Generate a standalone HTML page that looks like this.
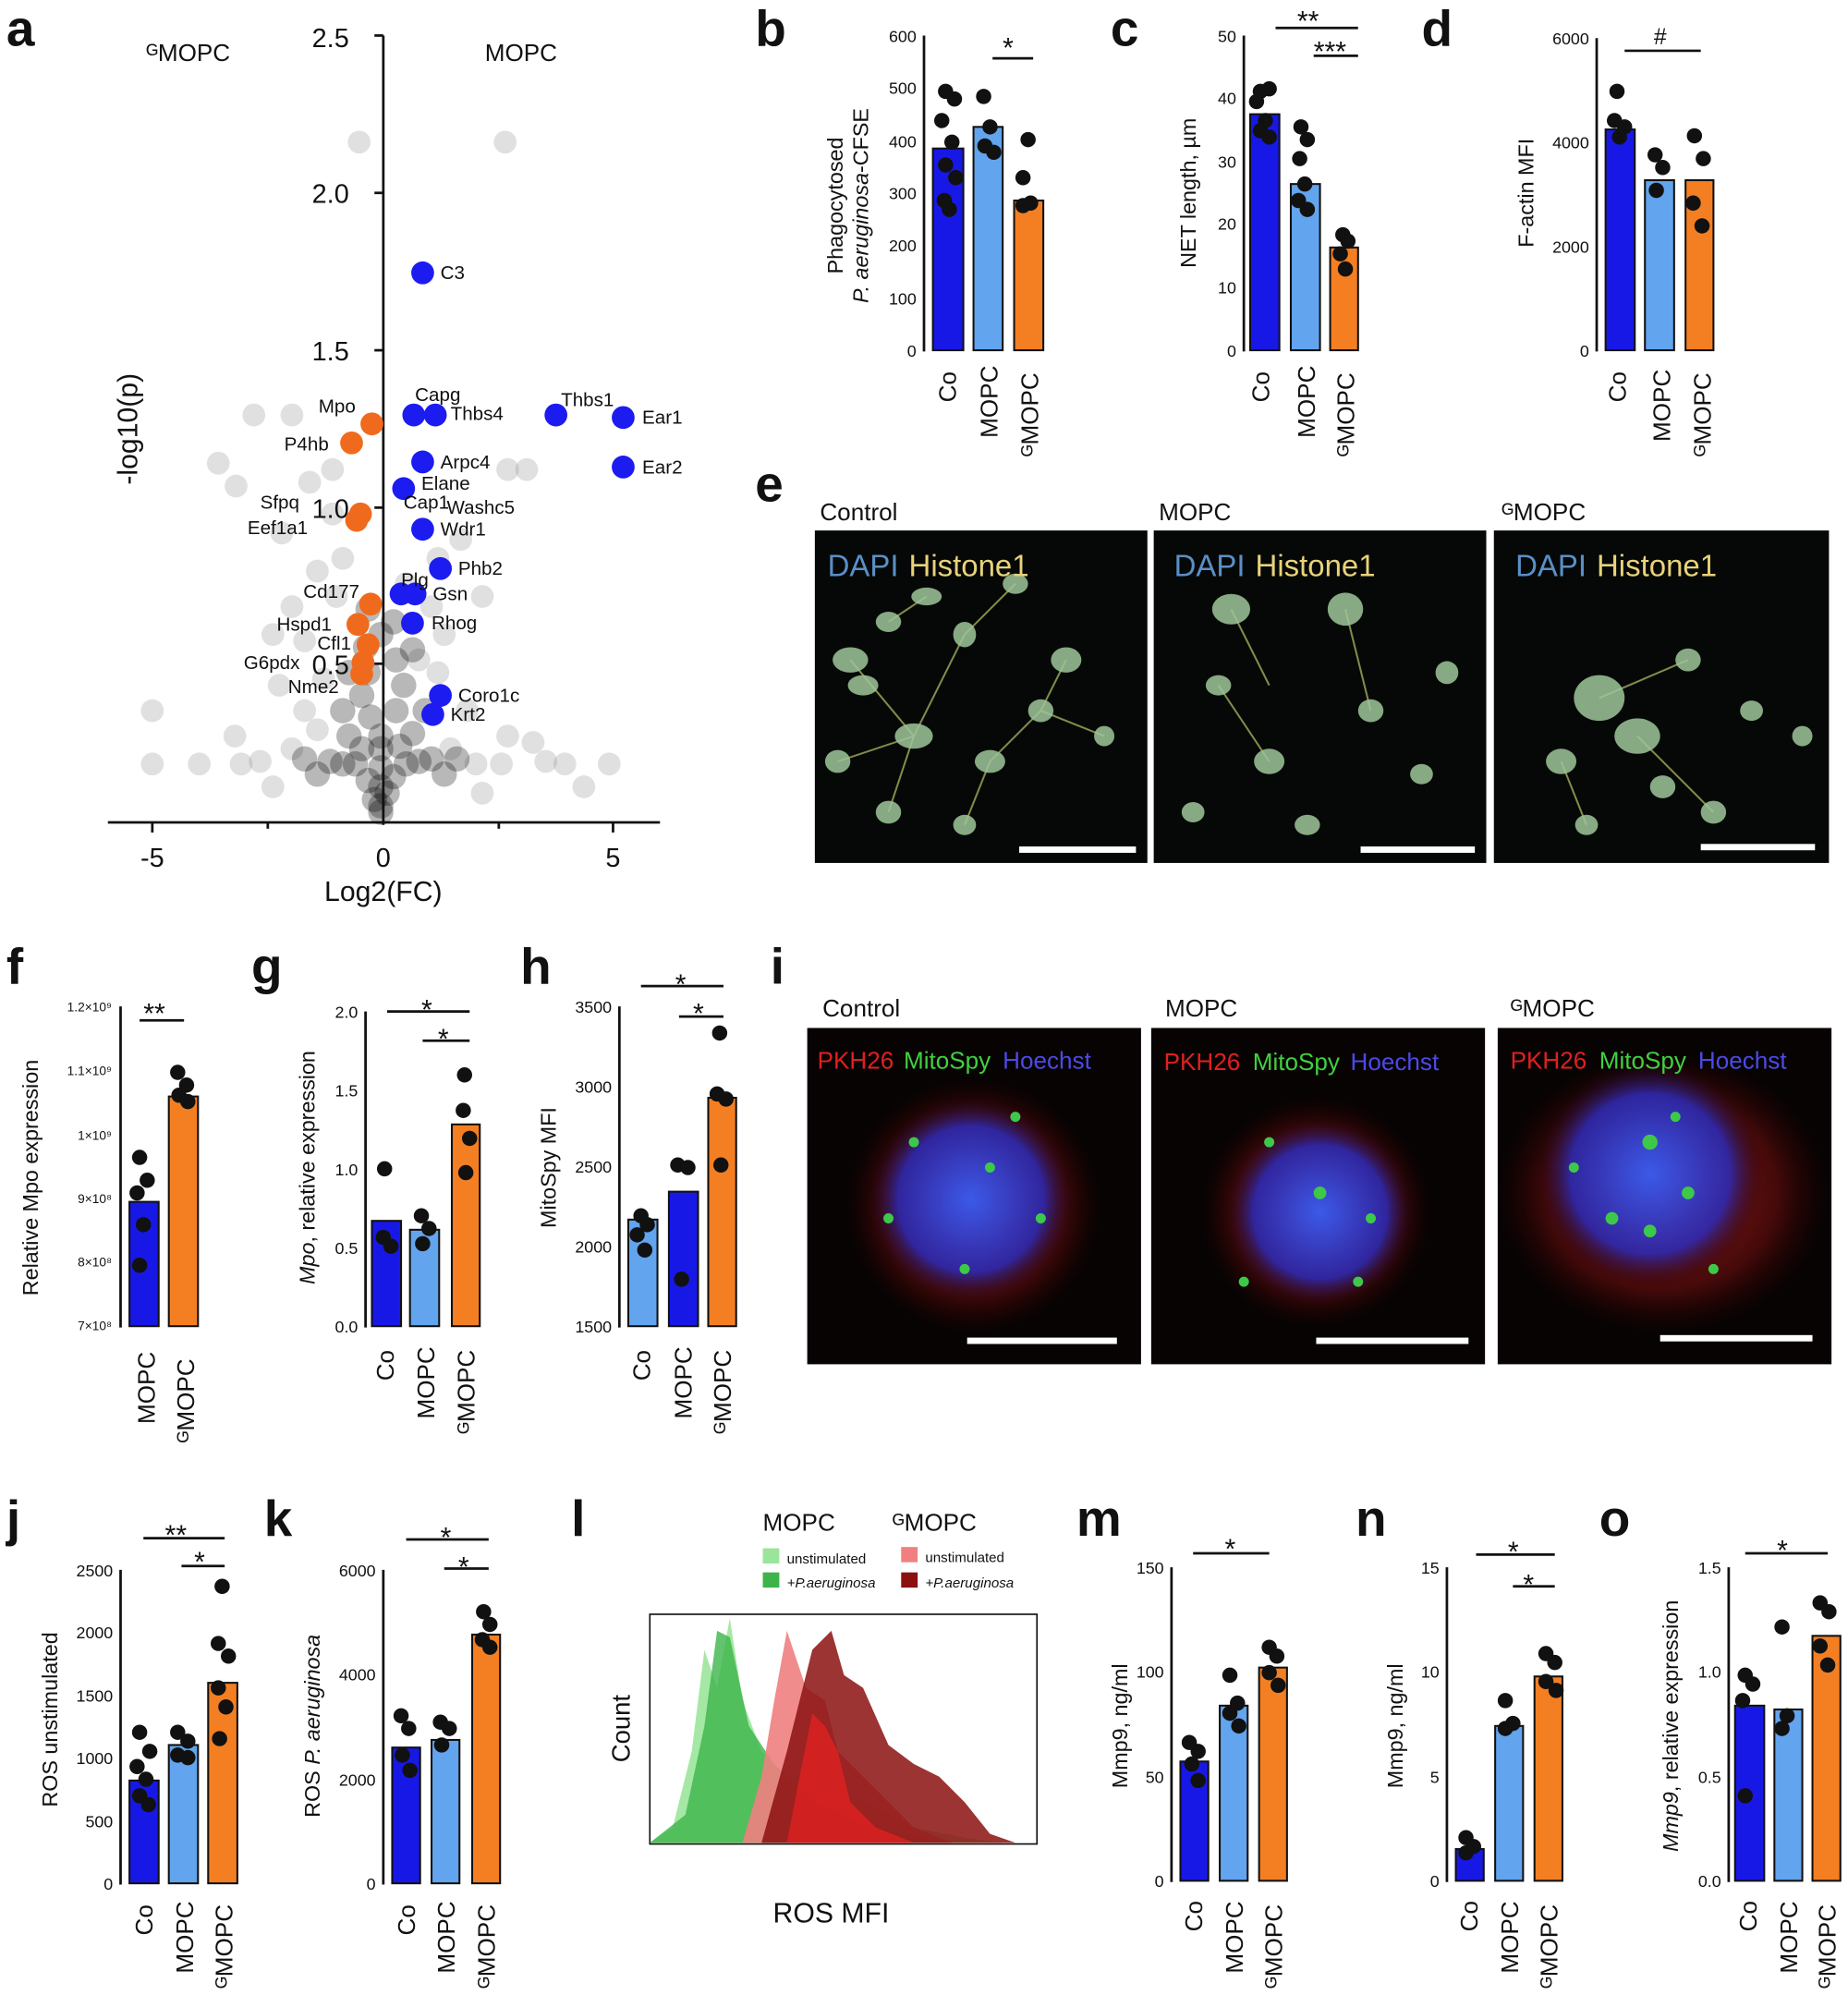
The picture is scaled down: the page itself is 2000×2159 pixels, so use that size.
<!DOCTYPE html>
<html><head><meta charset="utf-8"><style>
html,body{margin:0;padding:0;background:#fff}
svg{display:block}
text{font-family:"Liberation Sans",Arial,sans-serif}
.pl{font-size:40px;font-weight:bold}
.tk{font-size:13px}
.al{font-size:17px}
.cl{font-size:19px}
.gl{font-size:15px}
.b1{fill:#1818e6;stroke:#111;stroke-width:1.5}
.b2{fill:#62a4ee;stroke:#111;stroke-width:1.5}
.b3{fill:#f47f22;stroke:#111;stroke-width:1.5}
.ax{stroke:#111;stroke-width:2;fill:none}
.d{fill:#111}
.g{fill:#999;fill-opacity:.3}
</style></head><body>
<svg width="2000" height="2159" viewBox="0 0 1456 1572" preserveAspectRatio="none" xmlns="http://www.w3.org/2000/svg" fill="#111">
<rect width="1456" height="1572" fill="#fff"/>
<text class="pl" x="5" y="36">a</text><text class="pl" x="595" y="36">b</text><text class="pl" x="875" y="36">c</text><text class="pl" x="1120" y="36">d</text>
<text class="pl" x="595" y="395">e</text><text class="pl" x="5" y="775">f</text><text class="pl" x="198" y="775">g</text><text class="pl" x="410" y="775">h</text><text class="pl" x="607" y="775">i</text>
<text class="pl" x="5" y="1210">j</text><text class="pl" x="208" y="1210">k</text><text class="pl" x="450" y="1210">l</text><text class="pl" x="848" y="1210">m</text><text class="pl" x="1068" y="1210">n</text><text class="pl" x="1260" y="1210">o</text>

<!-- panel a -->
<g>
<g class="g">
<circle cx="283" cy="112" r="9"/><circle cx="398" cy="112" r="9"/><circle cx="200" cy="327" r="9"/><circle cx="230" cy="327" r="9"/><circle cx="172" cy="365" r="9"/><circle cx="186" cy="383" r="9"/><circle cx="244" cy="380" r="9"/><circle cx="262" cy="370" r="9"/><circle cx="400" cy="370" r="9"/><circle cx="415" cy="370" r="9"/><circle cx="363" cy="425" r="9"/><circle cx="222" cy="420" r="9"/><circle cx="250" cy="450" r="9"/><circle cx="265" cy="470" r="9"/><circle cx="380" cy="470" r="9"/><circle cx="215" cy="500" r="9"/><circle cx="240" cy="505" r="9"/><circle cx="350" cy="500" r="9"/><circle cx="330" cy="520" r="9"/><circle cx="120" cy="560" r="9"/><circle cx="120" cy="602" r="9"/><circle cx="157" cy="602" r="9"/><circle cx="185" cy="580" r="9"/><circle cx="205" cy="600" r="9"/><circle cx="400" cy="580" r="9"/><circle cx="430" cy="600" r="9"/><circle cx="395" cy="602" r="9"/><circle cx="460" cy="620" r="9"/><circle cx="480" cy="602" r="9"/><circle cx="368" cy="560" r="9"/><circle cx="240" cy="560" r="9"/><circle cx="220" cy="540" r="9"/><circle cx="270" cy="440" r="9"/><circle cx="320" cy="460" r="9"/><circle cx="345" cy="440" r="9"/><circle cx="262" cy="405" r="9"/>
<circle cx="190" cy="602" r="9"/><circle cx="230" cy="590" r="9"/><circle cx="250" cy="575" r="9"/><circle cx="355" cy="590" r="9"/><circle cx="375" cy="602" r="9"/><circle cx="420" cy="585" r="9"/><circle cx="445" cy="602" r="9"/><circle cx="215" cy="620" r="9"/><circle cx="380" cy="625" r="9"/><circle cx="255" cy="535" r="9"/><circle cx="345" cy="530" r="9"/><circle cx="230" cy="478" r="9"/><circle cx="340" cy="478" r="9"/>
</g>
<g fill="#000" fill-opacity=".28">
<circle cx="300" cy="640" r="10"/><circle cx="295" cy="630" r="10"/><circle cx="305" cy="625" r="10"/><circle cx="290" cy="615" r="10"/><circle cx="310" cy="612" r="10"/><circle cx="300" cy="605" r="10"/><circle cx="280" cy="602" r="10"/><circle cx="320" cy="602" r="10"/><circle cx="270" cy="602" r="10"/><circle cx="330" cy="600" r="10"/><circle cx="260" cy="600" r="10"/><circle cx="340" cy="598" r="10"/><circle cx="285" cy="590" r="10"/><circle cx="315" cy="588" r="10"/><circle cx="300" cy="580" r="10"/><circle cx="275" cy="580" r="10"/><circle cx="325" cy="578" r="10"/><circle cx="292" cy="565" r="10"/><circle cx="312" cy="560" r="10"/><circle cx="285" cy="548" r="10"/><circle cx="318" cy="540" r="10"/><circle cx="290" cy="530" r="10"/><circle cx="312" cy="520" r="10"/><circle cx="288" cy="510" r="10"/><circle cx="300" cy="500" r="10"/><circle cx="250" cy="610" r="10"/><circle cx="350" cy="610" r="10"/><circle cx="240" cy="598" r="10"/><circle cx="360" cy="598" r="10"/><circle cx="270" cy="560" r="10"/><circle cx="335" cy="560" r="10"/><circle cx="300" cy="635" r="10"/><circle cx="300" cy="620" r="10"/><circle cx="300" cy="590" r="10"/>
<circle cx="275" cy="530" r="10"/><circle cx="325" cy="512" r="10"/><circle cx="290" cy="480" r="10"/><circle cx="310" cy="490" r="10"/>
</g>
<line class="ax" x1="302" y1="28" x2="302" y2="650"/>
<line class="ax" x1="85" y1="648" x2="520" y2="648"/>
<g class="ax"><line x1="295" y1="28" x2="302" y2="28"/><line x1="295" y1="152" x2="302" y2="152"/><line x1="295" y1="276" x2="302" y2="276"/><line x1="295" y1="400" x2="302" y2="400"/><line x1="295" y1="523" x2="302" y2="523"/>
<line x1="120" y1="648" x2="120" y2="656"/><line x1="483" y1="648" x2="483" y2="656"/><line x1="211" y1="648" x2="211" y2="653"/><line x1="393" y1="648" x2="393" y2="653"/></g>
<g font-size="21" text-anchor="end"><text x="275" y="37">2.5</text><text x="275" y="160">2.0</text><text x="275" y="284">1.5</text><text x="275" y="408">1.0</text><text x="275" y="531">0.5</text></g>
<g font-size="21" text-anchor="middle"><text x="120" y="683">-5</text><text x="302" y="683">0</text><text x="483" y="683">5</text></g>
<text x="302" y="710" font-size="22" text-anchor="middle">Log2(FC)</text>
<text transform="translate(108,338) rotate(-90)" font-size="22" text-anchor="middle">-log10(p)</text>
<text x="115" y="48" font-size="19">ᴳMOPC</text><text x="382" y="48" font-size="19">MOPC</text>
<g fill="#1c1cf0"><circle cx="333" cy="215" r="9"/><circle cx="326" cy="327" r="9"/><circle cx="343" cy="327" r="9"/><circle cx="438" cy="327" r="9"/><circle cx="491" cy="329" r="9"/><circle cx="491" cy="368" r="9"/><circle cx="333" cy="364" r="9"/><circle cx="318" cy="385" r="9"/><circle cx="333" cy="417" r="9"/><circle cx="347" cy="448" r="9"/><circle cx="316" cy="468" r="9"/><circle cx="327" cy="468" r="9"/><circle cx="325" cy="491" r="9"/><circle cx="347" cy="548" r="9"/><circle cx="341" cy="563" r="9"/></g>
<g fill="#f06a1e"><circle cx="293" cy="334" r="9"/><circle cx="277" cy="349" r="9"/><circle cx="284" cy="405" r="9"/><circle cx="281" cy="410" r="9"/><circle cx="292" cy="476" r="9"/><circle cx="282" cy="492" r="9"/><circle cx="290" cy="508" r="9"/><circle cx="286" cy="522" r="9"/><circle cx="285" cy="531" r="9"/></g>
<g class="gl"><text x="347" y="220">C3</text><text x="327" y="316">Capg</text><text x="355" y="331">Thbs4</text><text x="442" y="320">Thbs1</text><text x="506" y="334">Ear1</text><text x="506" y="373">Ear2</text><text x="347" y="369">Arpc4</text><text x="332" y="386">Elane</text><text x="318" y="401">Cap1</text><text x="352" y="405">Washc5</text><text x="347" y="422">Wdr1</text><text x="361" y="453">Phb2</text><text x="316" y="462">Plg</text><text x="341" y="473">Gsn</text><text x="340" y="496">Rhog</text><text x="361" y="553">Coro1c</text><text x="355" y="568">Krt2</text>
<text x="251" y="325">Mpo</text><text x="224" y="355">P4hb</text><text x="205" y="401">Sfpq</text><text x="195" y="421">Eef1a1</text><text x="239" y="471">Cd177</text><text x="218" y="497">Hspd1</text><text x="250" y="512">Cfl1</text><text x="192" y="527">G6pdx</text><text x="227" y="546">Nme2</text></g>
</g>

<!-- panel b -->
<g>
<line class="ax" x1="728" y1="28" x2="728" y2="277"/>
<g class="tk" text-anchor="end"><text x="722" y="33">600</text><text x="722" y="74">500</text><text x="722" y="116">400</text><text x="722" y="157">300</text><text x="722" y="198">200</text><text x="722" y="240">100</text><text x="722" y="281">0</text></g>
<rect class="b1" x="735" y="117" width="24" height="159"/><rect class="b2" x="767" y="100" width="23" height="176"/><rect class="b3" x="799" y="158" width="23" height="118"/>
<g class="d"><circle cx="745" cy="72" r="6"/><circle cx="752" cy="78" r="6"/><circle cx="742" cy="95" r="6"/><circle cx="750" cy="112" r="6"/><circle cx="745" cy="130" r="6"/><circle cx="753" cy="140" r="6"/><circle cx="744" cy="158" r="6"/><circle cx="748" cy="165" r="6"/><circle cx="775" cy="76" r="6"/><circle cx="780" cy="100" r="6"/><circle cx="776" cy="115" r="6"/><circle cx="783" cy="120" r="6"/><circle cx="810" cy="110" r="6"/><circle cx="806" cy="140" r="6"/><circle cx="812" cy="160" r="6"/><circle cx="806" cy="162" r="6"/></g>
<line class="ax" x1="782" y1="46" x2="814" y2="46"/><text x="790" y="45" font-size="22">*</text>
<text transform="translate(664,162) rotate(-90)" class="al" text-anchor="middle">Phagocytosed</text>
<text transform="translate(684,162) rotate(-90)" class="al" text-anchor="middle"><tspan font-style="italic">P. aeruginosa</tspan>-CFSE</text>
<g class="cl"><text transform="translate(753,317) rotate(-90)">Co</text><text transform="translate(786,345) rotate(-90)">MOPC</text><text transform="translate(818,360) rotate(-90)">ᴳMOPC</text></g>
</g>

<!-- panel c -->
<g>
<line class="ax" x1="980" y1="28" x2="980" y2="277"/>
<g class="tk" text-anchor="end"><text x="974" y="33">50</text><text x="974" y="82">40</text><text x="974" y="132">30</text><text x="974" y="181">20</text><text x="974" y="231">10</text><text x="974" y="281">0</text></g>
<rect class="b1" x="985" y="90" width="23" height="186"/><rect class="b2" x="1017" y="145" width="23" height="131"/><rect class="b3" x="1048" y="195" width="22" height="81"/>
<g class="d"><circle cx="993" cy="72" r="6"/><circle cx="1000" cy="70" r="6"/><circle cx="990" cy="80" r="6"/><circle cx="997" cy="95" r="6"/><circle cx="993" cy="103" r="6"/><circle cx="1000" cy="108" r="6"/><circle cx="1025" cy="100" r="6"/><circle cx="1030" cy="110" r="6"/><circle cx="1024" cy="125" r="6"/><circle cx="1028" cy="145" r="6"/><circle cx="1023" cy="158" r="6"/><circle cx="1030" cy="165" r="6"/><circle cx="1058" cy="185" r="6"/><circle cx="1062" cy="190" r="6"/><circle cx="1056" cy="200" r="6"/><circle cx="1060" cy="212" r="6"/></g>
<line class="ax" x1="1005" y1="22" x2="1070" y2="22"/><line class="ax" x1="1035" y1="44" x2="1070" y2="44"/>
<text x="1022" y="24" font-size="22">**</text><text x="1035" y="48" font-size="22">***</text>
<text transform="translate(942,152) rotate(-90)" class="al" text-anchor="middle">NET length, µm</text>
<g class="cl"><text transform="translate(1000,317) rotate(-90)">Co</text><text transform="translate(1036,345) rotate(-90)">MOPC</text><text transform="translate(1067,360) rotate(-90)">ᴳMOPC</text></g>
</g>

<!-- panel d -->
<g>
<line class="ax" x1="1258" y1="30" x2="1258" y2="277"/>
<g class="tk" text-anchor="end"><text x="1252" y="35">6000</text><text x="1252" y="117">4000</text><text x="1252" y="199">2000</text><text x="1252" y="281">0</text></g>
<rect class="b1" x="1265" y="102" width="23" height="174"/><rect class="b2" x="1296" y="142" width="23" height="134"/><rect class="b3" x="1328" y="142" width="22" height="134"/>
<g class="d"><circle cx="1274" cy="72" r="6"/><circle cx="1272" cy="95" r="6"/><circle cx="1280" cy="100" r="6"/><circle cx="1276" cy="108" r="6"/><circle cx="1304" cy="122" r="6"/><circle cx="1310" cy="132" r="6"/><circle cx="1305" cy="150" r="6"/><circle cx="1335" cy="107" r="6"/><circle cx="1342" cy="125" r="6"/><circle cx="1334" cy="160" r="6"/><circle cx="1341" cy="178" r="6"/></g>
<line class="ax" x1="1280" y1="40" x2="1340" y2="40"/><text x="1303" y="35" font-size="18">#</text>
<text transform="translate(1208,152) rotate(-90)" class="al" text-anchor="middle">F-actin MFI</text>
<g class="cl"><text transform="translate(1281,317) rotate(-90)">Co</text><text transform="translate(1316,348) rotate(-90)">MOPC</text><text transform="translate(1348,360) rotate(-90)">ᴳMOPC</text></g>
</g>

<!-- panel e -->
<g>
<text x="646" y="410" font-size="19">Control</text><text x="913" y="410" font-size="19">MOPC</text><text x="1183" y="410" font-size="19">ᴳMOPC</text>
<rect x="642" y="418" width="262" height="262" fill="#050806"/><rect x="909" y="418" width="262" height="262" fill="#050806"/><rect x="1177" y="418" width="264" height="262" fill="#050806"/>
<g stroke="#b8c26a" stroke-width="1.5" stroke-opacity=".7" fill="none">
<path d="M670,520 L720,580 M700,490 L730,470 M760,500 L720,580 M780,600 L820,560 M700,640 L720,580 M760,650 L780,600 M840,520 L820,560 M800,460 L760,500 M660,600 L720,580 M870,580 L820,560"/>
<path d="M970,480 L1000,540 M1060,480 L1080,560 M1000,600 L960,540"/>
<path d="M1260,550 L1330,520 M1290,580 L1350,640 M1230,600 L1250,650"/>
</g>
<g fill="#9fc59a" fill-opacity=".85">
<ellipse cx="670" cy="520" rx="14" ry="10"/><ellipse cx="700" cy="490" rx="10" ry="8"/><ellipse cx="730" cy="470" rx="12" ry="7"/><ellipse cx="760" cy="500" rx="9" ry="10"/><ellipse cx="800" cy="460" rx="10" ry="8"/><ellipse cx="840" cy="520" rx="12" ry="10"/><ellipse cx="720" cy="580" rx="15" ry="10"/><ellipse cx="780" cy="600" rx="12" ry="9"/><ellipse cx="700" cy="640" rx="10" ry="9"/><ellipse cx="760" cy="650" rx="9" ry="8"/><ellipse cx="820" cy="560" rx="10" ry="9"/><ellipse cx="870" cy="580" rx="8" ry="8"/><ellipse cx="660" cy="600" rx="10" ry="9"/><ellipse cx="680" cy="540" rx="12" ry="8"/>
<ellipse cx="970" cy="480" rx="15" ry="12"/><ellipse cx="1060" cy="480" rx="14" ry="13"/><ellipse cx="1000" cy="600" rx="12" ry="10"/><ellipse cx="1080" cy="560" rx="10" ry="9"/><ellipse cx="1140" cy="530" rx="9" ry="9"/><ellipse cx="960" cy="540" rx="10" ry="8"/><ellipse cx="1030" cy="650" rx="10" ry="8"/><ellipse cx="1120" cy="610" rx="9" ry="8"/><ellipse cx="940" cy="640" rx="9" ry="8"/>
<ellipse cx="1260" cy="550" rx="20" ry="18"/><ellipse cx="1290" cy="580" rx="18" ry="14"/><ellipse cx="1230" cy="600" rx="12" ry="10"/><ellipse cx="1330" cy="520" rx="10" ry="9"/><ellipse cx="1380" cy="560" rx="9" ry="8"/><ellipse cx="1350" cy="640" rx="10" ry="9"/><ellipse cx="1250" cy="650" rx="9" ry="8"/><ellipse cx="1420" cy="580" rx="8" ry="8"/><ellipse cx="1310" cy="620" rx="10" ry="9"/>
</g>
<g font-size="24"><text x="652" y="454" fill="#5a8fc7">DAPI</text><text x="716" y="454" fill="#e8d27a">Histone1</text><text x="925" y="454" fill="#5a8fc7">DAPI</text><text x="989" y="454" fill="#e8d27a">Histone1</text><text x="1194" y="454" fill="#5a8fc7">DAPI</text><text x="1258" y="454" fill="#e8d27a">Histone1</text></g>
<g fill="#fff"><rect x="803" y="667" width="92" height="5"/><rect x="1072" y="667" width="90" height="5"/><rect x="1340" y="665" width="90" height="5"/></g>
</g>

<!-- panel f -->
<g>
<line class="ax" x1="95" y1="793" x2="95" y2="1046"/>
<g font-size="10" text-anchor="end"><text x="88" y="797">1.2×10⁹</text><text x="88" y="847">1.1×10⁹</text><text x="88" y="898">1×10⁹</text><text x="88" y="948">9×10⁸</text><text x="88" y="998">8×10⁸</text><text x="88" y="1048">7×10⁸</text></g>
<rect class="b1" x="102" y="947" width="23" height="98"/><rect class="b3" x="133" y="864" width="23" height="181"/>
<g class="d"><circle cx="110" cy="912" r="6"/><circle cx="116" cy="930" r="6"/><circle cx="108" cy="940" r="6"/><circle cx="113" cy="965" r="6"/><circle cx="110" cy="997" r="6"/><circle cx="140" cy="845" r="6"/><circle cx="147" cy="855" r="6"/><circle cx="141" cy="863" r="6"/><circle cx="148" cy="868" r="6"/></g>
<line class="ax" x1="110" y1="804" x2="145" y2="804"/><text x="113" y="806" font-size="22">**</text>
<text transform="translate(30,928) rotate(-90)" class="al" text-anchor="middle">Relative Mpo expression</text>
<g class="cl"><text transform="translate(122,1122) rotate(-90)">MOPC</text><text transform="translate(153,1137) rotate(-90)">ᴳMOPC</text></g>
</g>

<!-- panel g -->
<g>
<line class="ax" x1="288" y1="797" x2="288" y2="1046"/>
<g class="tk" text-anchor="end"><text x="282" y="802">2.0</text><text x="282" y="864">1.5</text><text x="282" y="926">1.0</text><text x="282" y="988">0.5</text><text x="282" y="1050">0.0</text></g>
<rect class="b1" x="293" y="962" width="23" height="83"/><rect class="b2" x="323" y="969" width="23" height="76"/><rect class="b3" x="356" y="886" width="22" height="159"/>
<g class="d"><circle cx="303" cy="921" r="6"/><circle cx="302" cy="975" r="6"/><circle cx="308" cy="982" r="6"/><circle cx="332" cy="958" r="6"/><circle cx="338" cy="968" r="6"/><circle cx="333" cy="980" r="6"/><circle cx="366" cy="847" r="6"/><circle cx="365" cy="875" r="6"/><circle cx="370" cy="897" r="6"/><circle cx="367" cy="924" r="6"/></g>
<line class="ax" x1="305" y1="797" x2="370" y2="797"/><line class="ax" x1="333" y1="820" x2="370" y2="820"/>
<text x="332" y="803" font-size="22">*</text><text x="345" y="826" font-size="22">*</text>
<text transform="translate(248,920) rotate(-90)" class="al" text-anchor="middle"><tspan font-style="italic">Mpo</tspan>, relative expression</text>
<g class="cl"><text transform="translate(310,1088) rotate(-90)">Co</text><text transform="translate(342,1118) rotate(-90)">MOPC</text><text transform="translate(374,1130) rotate(-90)">ᴳMOPC</text></g>
</g>

<!-- panel h -->
<g>
<line class="ax" x1="488" y1="793" x2="488" y2="1046"/>
<g class="tk" text-anchor="end"><text x="482" y="798">3500</text><text x="482" y="861">3000</text><text x="482" y="924">2500</text><text x="482" y="987">2000</text><text x="482" y="1050">1500</text></g>
<rect class="b2" x="495" y="961" width="23" height="84"/><rect class="b1" x="527" y="939" width="23" height="106"/><rect class="b3" x="558" y="865" width="22" height="180"/>
<g class="d"><circle cx="505" cy="958" r="6"/><circle cx="510" cy="965" r="6"/><circle cx="502" cy="973" r="6"/><circle cx="508" cy="985" r="6"/><circle cx="534" cy="918" r="6"/><circle cx="542" cy="920" r="6"/><circle cx="537" cy="1008" r="6"/><circle cx="567" cy="814" r="6"/><circle cx="565" cy="862" r="6"/><circle cx="572" cy="866" r="6"/><circle cx="568" cy="918" r="6"/></g>
<line class="ax" x1="505" y1="777" x2="570" y2="777"/><line class="ax" x1="535" y1="801" x2="570" y2="801"/>
<text x="532" y="783" font-size="22">*</text><text x="546" y="806" font-size="22">*</text>
<text transform="translate(438,920) rotate(-90)" class="al" text-anchor="middle">MitoSpy MFI</text>
<g class="cl"><text transform="translate(512,1088) rotate(-90)">Co</text><text transform="translate(545,1118) rotate(-90)">MOPC</text><text transform="translate(576,1130) rotate(-90)">ᴳMOPC</text></g>
</g>

<!-- panel i -->
<g>
<defs>
<radialGradient id="rd"><stop offset="0" stop-color="#c22" stop-opacity=".9"/><stop offset=".7" stop-color="#801010" stop-opacity=".5"/><stop offset="1" stop-color="#400" stop-opacity="0"/></radialGradient>
<radialGradient id="bl"><stop offset="0" stop-color="#3a5ae8"/><stop offset=".7" stop-color="#2a2ab8" stop-opacity=".85"/><stop offset="1" stop-color="#200" stop-opacity="0"/></radialGradient>
</defs>
<text x="648" y="801" font-size="19">Control</text><text x="918" y="801" font-size="19">MOPC</text><text x="1190" y="801" font-size="19">ᴳMOPC</text>
<rect x="636" y="810" width="263" height="265" fill="#080303"/><rect x="907" y="810" width="263" height="265" fill="#080303"/><rect x="1180" y="810" width="263" height="265" fill="#080303"/>
<circle cx="767" cy="950" r="100" fill="url(#rd)"/><circle cx="765" cy="945" r="82" fill="url(#bl)"/>
<circle cx="1037" cy="955" r="90" fill="url(#rd)"/><circle cx="1040" cy="955" r="75" fill="url(#bl)"/>
<ellipse cx="1310" cy="940" rx="130" ry="110" fill="url(#rd)"/><circle cx="1300" cy="925" r="90" fill="url(#bl)"/>
<g fill="#3ec84a"><circle cx="720" cy="900" r="4"/><circle cx="800" cy="880" r="4"/><circle cx="760" cy="1000" r="4"/><circle cx="820" cy="960" r="4"/><circle cx="700" cy="960" r="4"/><circle cx="780" cy="920" r="4"/><circle cx="1000" cy="900" r="4"/><circle cx="1040" cy="940" r="5"/><circle cx="1070" cy="1010" r="4"/><circle cx="980" cy="1010" r="4"/><circle cx="1080" cy="960" r="4"/><circle cx="1300" cy="900" r="6"/><circle cx="1330" cy="940" r="5"/><circle cx="1270" cy="960" r="5"/><circle cx="1350" cy="1000" r="4"/><circle cx="1240" cy="920" r="4"/><circle cx="1300" cy="970" r="5"/><circle cx="1320" cy="880" r="4"/></g>
<g font-size="19"><text x="644" y="842" fill="#e02020">PKH26</text><text x="712" y="842" fill="#40d040">MitoSpy</text><text x="790" y="842" fill="#4a4ae8">Hoechst</text>
<text x="917" y="843" fill="#e02020">PKH26</text><text x="987" y="843" fill="#40d040">MitoSpy</text><text x="1064" y="843" fill="#4a4ae8">Hoechst</text>
<text x="1190" y="842" fill="#e02020">PKH26</text><text x="1260" y="842" fill="#40d040">MitoSpy</text><text x="1338" y="842" fill="#4a4ae8">Hoechst</text></g>
<g fill="#fff"><rect x="762" y="1054" width="118" height="5"/><rect x="1037" y="1054" width="120" height="5"/><rect x="1308" y="1052" width="120" height="5"/></g>
</g>

<!-- panel j -->
<g>
<line class="ax" x1="95" y1="1237" x2="95" y2="1485"/>
<g class="tk" text-anchor="end"><text x="89" y="1242">2500</text><text x="89" y="1291">2000</text><text x="89" y="1341">1500</text><text x="89" y="1390">1000</text><text x="89" y="1440">500</text><text x="89" y="1489">0</text></g>
<rect class="b1" x="102" y="1403" width="23" height="81"/><rect class="b2" x="133" y="1375" width="23" height="109"/><rect class="b3" x="164" y="1326" width="23" height="158"/>
<g class="d"><circle cx="110" cy="1365" r="6"/><circle cx="118" cy="1380" r="6"/><circle cx="108" cy="1392" r="6"/><circle cx="115" cy="1402" r="6"/><circle cx="110" cy="1415" r="6"/><circle cx="117" cy="1422" r="6"/><circle cx="140" cy="1365" r="6"/><circle cx="148" cy="1372" r="6"/><circle cx="140" cy="1383" r="6"/><circle cx="148" cy="1385" r="6"/><circle cx="175" cy="1250" r="6"/><circle cx="172" cy="1295" r="6"/><circle cx="180" cy="1305" r="6"/><circle cx="172" cy="1330" r="6"/><circle cx="178" cy="1345" r="6"/><circle cx="173" cy="1370" r="6"/></g>
<line class="ax" x1="113" y1="1212" x2="177" y2="1212"/><line class="ax" x1="143" y1="1234" x2="177" y2="1234"/>
<text x="130" y="1217" font-size="22">**</text><text x="153" y="1238" font-size="22">*</text>
<text transform="translate(45,1355) rotate(-90)" class="al" text-anchor="middle">ROS unstimulated</text>
<g class="cl"><text transform="translate(120,1525) rotate(-90)">Co</text><text transform="translate(152,1555) rotate(-90)">MOPC</text><text transform="translate(183,1567) rotate(-90)">ᴳMOPC</text></g>
</g>

<!-- panel k -->
<g>
<line class="ax" x1="302" y1="1237" x2="302" y2="1485"/>
<g class="tk" text-anchor="end"><text x="296" y="1242">6000</text><text x="296" y="1324">4000</text><text x="296" y="1407">2000</text><text x="296" y="1489">0</text></g>
<rect class="b1" x="309" y="1377" width="22" height="107"/><rect class="b2" x="340" y="1371" width="22" height="113"/><rect class="b3" x="372" y="1288" width="22" height="196"/>
<g class="d"><circle cx="316" cy="1352" r="6"/><circle cx="322" cy="1362" r="6"/><circle cx="317" cy="1383" r="6"/><circle cx="323" cy="1395" r="6"/><circle cx="347" cy="1357" r="6"/><circle cx="354" cy="1362" r="6"/><circle cx="348" cy="1375" r="6"/><circle cx="381" cy="1270" r="6"/><circle cx="386" cy="1280" r="6"/><circle cx="380" cy="1292" r="6"/><circle cx="386" cy="1298" r="6"/></g>
<line class="ax" x1="320" y1="1213" x2="385" y2="1213"/><line class="ax" x1="350" y1="1236" x2="385" y2="1236"/>
<text x="347" y="1219" font-size="22">*</text><text x="361" y="1242" font-size="22">*</text>
<text transform="translate(252,1360) rotate(-90)" class="al" text-anchor="middle">ROS <tspan font-style="italic">P. aeruginosa</tspan></text>
<g class="cl"><text transform="translate(327,1525) rotate(-90)">Co</text><text transform="translate(358,1555) rotate(-90)">MOPC</text><text transform="translate(390,1567) rotate(-90)">ᴳMOPC</text></g>
</g>

<!-- panel l -->
<g>
<text x="601" y="1206" font-size="19">MOPC</text><text x="703" y="1206" font-size="19">ᴳMOPC</text>
<rect x="601" y="1220" width="13" height="12" fill="#9be59b"/><text x="620" y="1232" font-size="11">unstimulated</text>
<rect x="601" y="1239" width="13" height="12" fill="#3cb44a"/><text x="620" y="1251" font-size="11" font-style="italic">+P.aeruginosa</text>
<rect x="710" y="1219" width="13" height="12" fill="#f08080"/><text x="729" y="1231" font-size="11">unstimulated</text>
<rect x="710" y="1239" width="13" height="12" fill="#8b1010"/><text x="729" y="1251" font-size="11" font-style="italic">+P.aeruginosa</text>
<rect x="512" y="1272" width="305" height="181" fill="none" stroke="#111" stroke-width="1.2"/>
<path d="M512,1452 L530,1440 545,1380 555,1300 565,1330 575,1275 585,1340 600,1380 620,1400 650,1410 680,1420 720,1440 760,1448 790,1452Z" fill="#9be59b" fill-opacity=".9"/>
<path d="M512,1452 L540,1430 555,1360 565,1285 575,1290 590,1360 610,1390 640,1420 680,1438 720,1446 750,1452Z" fill="#3cb44a" fill-opacity=".8"/>
<path d="M585,1452 L600,1400 610,1340 620,1285 635,1330 650,1340 660,1380 680,1400 700,1420 720,1440 750,1452Z" fill="#f08080" fill-opacity=".9"/>
<path d="M600,1452 L620,1380 640,1300 655,1285 665,1320 680,1330 700,1375 720,1390 740,1400 760,1420 780,1445 800,1452Z" fill="#8b1010" fill-opacity=".85"/>
<path d="M620,1452 L630,1400 640,1350 650,1360 660,1380 670,1420 690,1440 720,1452Z" fill="#e02020" fill-opacity=".8"/>
<text x="609" y="1515" font-size="22">ROS MFI</text>
<text transform="translate(496,1362) rotate(-90)" text-anchor="middle" font-size="20">Count</text>
</g>

<!-- panel m -->
<g>
<line class="ax" x1="923" y1="1235" x2="923" y2="1483"/>
<g class="tk" text-anchor="end"><text x="917" y="1240">150</text><text x="917" y="1322">100</text><text x="917" y="1405">50</text><text x="917" y="1487">0</text></g>
<rect class="b1" x="930" y="1388" width="22" height="94"/><rect class="b2" x="961" y="1344" width="22" height="138"/><rect class="b3" x="992" y="1314" width="22" height="168"/>
<g class="d"><circle cx="937" cy="1373" r="6"/><circle cx="944" cy="1380" r="6"/><circle cx="939" cy="1390" r="6"/><circle cx="944" cy="1403" r="6"/><circle cx="969" cy="1320" r="6"/><circle cx="975" cy="1342" r="6"/><circle cx="969" cy="1350" r="6"/><circle cx="976" cy="1360" r="6"/><circle cx="1000" cy="1298" r="6"/><circle cx="1006" cy="1305" r="6"/><circle cx="1000" cy="1318" r="6"/><circle cx="1007" cy="1328" r="6"/></g>
<line class="ax" x1="940" y1="1224" x2="1000" y2="1224"/><text x="965" y="1228" font-size="22">*</text>
<text transform="translate(888,1360) rotate(-90)" class="al" text-anchor="middle">Mmp9, ng/ml</text>
<g class="cl"><text transform="translate(947,1522) rotate(-90)">Co</text><text transform="translate(979,1555) rotate(-90)">MOPC</text><text transform="translate(1010,1567) rotate(-90)">ᴳMOPC</text></g>
</g>

<!-- panel n -->
<g>
<line class="ax" x1="1140" y1="1235" x2="1140" y2="1483"/>
<g class="tk" text-anchor="end"><text x="1134" y="1240">15</text><text x="1134" y="1322">10</text><text x="1134" y="1405">5</text><text x="1134" y="1487">0</text></g>
<rect class="b1" x="1147" y="1457" width="22" height="25"/><rect class="b2" x="1178" y="1360" width="22" height="122"/><rect class="b3" x="1209" y="1321" width="22" height="161"/>
<g class="d"><circle cx="1155" cy="1448" r="6"/><circle cx="1161" cy="1455" r="6"/><circle cx="1155" cy="1460" r="6"/><circle cx="1186" cy="1340" r="6"/><circle cx="1192" cy="1358" r="6"/><circle cx="1186" cy="1362" r="6"/><circle cx="1218" cy="1303" r="6"/><circle cx="1225" cy="1310" r="6"/><circle cx="1218" cy="1325" r="6"/><circle cx="1226" cy="1332" r="6"/></g>
<line class="ax" x1="1163" y1="1225" x2="1225" y2="1225"/><line class="ax" x1="1192" y1="1250" x2="1225" y2="1250"/>
<text x="1188" y="1230" font-size="22">*</text><text x="1200" y="1256" font-size="22">*</text>
<text transform="translate(1105,1360) rotate(-90)" class="al" text-anchor="middle">Mmp9, ng/ml</text>
<g class="cl"><text transform="translate(1164,1522) rotate(-90)">Co</text><text transform="translate(1196,1555) rotate(-90)">MOPC</text><text transform="translate(1227,1567) rotate(-90)">ᴳMOPC</text></g>
</g>

<!-- panel o -->
<g>
<line class="ax" x1="1362" y1="1235" x2="1362" y2="1483"/>
<g class="tk" text-anchor="end"><text x="1356" y="1240">1.5</text><text x="1356" y="1322">1.0</text><text x="1356" y="1405">0.5</text><text x="1356" y="1487">0.0</text></g>
<rect class="b1" x="1367" y="1344" width="23" height="138"/><rect class="b2" x="1398" y="1347" width="22" height="135"/><rect class="b3" x="1428" y="1289" width="22" height="193"/>
<g class="d"><circle cx="1375" cy="1320" r="6"/><circle cx="1381" cy="1327" r="6"/><circle cx="1373" cy="1340" r="6"/><circle cx="1375" cy="1415" r="6"/><circle cx="1404" cy="1282" r="6"/><circle cx="1408" cy="1352" r="6"/><circle cx="1404" cy="1362" r="6"/><circle cx="1434" cy="1263" r="6"/><circle cx="1441" cy="1270" r="6"/><circle cx="1434" cy="1297" r="6"/><circle cx="1440" cy="1312" r="6"/></g>
<line class="ax" x1="1375" y1="1224" x2="1440" y2="1224"/><text x="1400" y="1229" font-size="22">*</text>
<text transform="translate(1322,1360) rotate(-90)" class="al" text-anchor="middle"><tspan font-style="italic">Mmp9</tspan>, relative expression</text>
<g class="cl"><text transform="translate(1384,1522) rotate(-90)">Co</text><text transform="translate(1416,1555) rotate(-90)">MOPC</text><text transform="translate(1446,1567) rotate(-90)">ᴳMOPC</text></g>
</g>
</svg>
</body></html>
